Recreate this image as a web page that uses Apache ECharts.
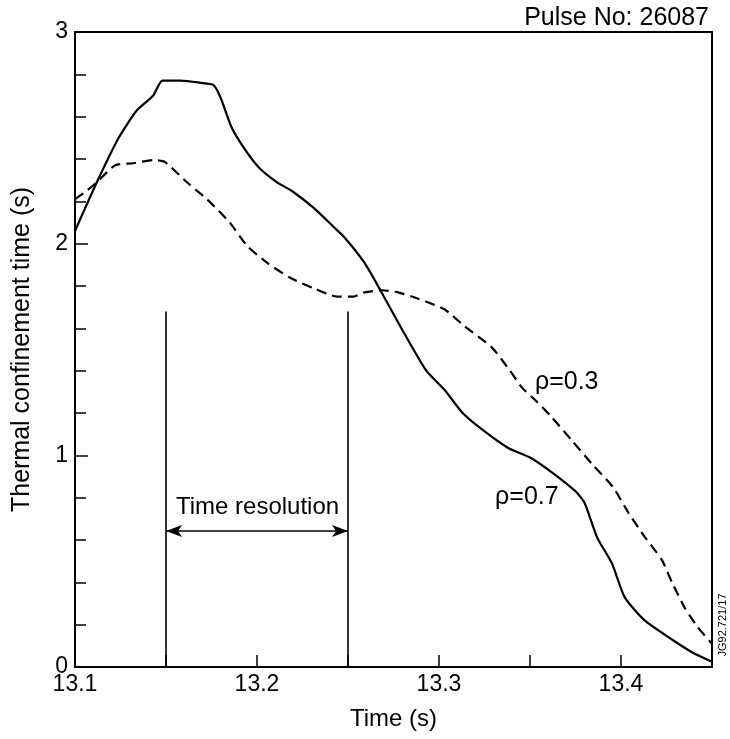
<!DOCTYPE html>
<html>
<head>
<meta charset="utf-8">
<title>Thermal confinement time</title>
<script src="https://cdn.jsdelivr.net/npm/echarts@6/dist/echarts.min.js"></script>
<style>
  html, body { margin: 0; padding: 0; background: #fff; }
  #chart { width: 730px; height: 739px; }
</style>
</head>
<body>
<div id="chart"></div>
<script>
/*****
 * DATA
 */
// rho = 0.7 (solid)
var timeSolid = [13.100, 13.112, 13.124, 13.134, 13.143, 13.148, 13.158, 13.169, 13.176, 13.180,
  13.186, 13.193, 13.201, 13.211, 13.219, 13.231, 13.242, 13.248, 13.259, 13.2665,
  13.280, 13.293, 13.303, 13.313, 13.324, 13.338, 13.350, 13.362, 13.375, 13.380,
  13.387, 13.395, 13.402, 13.413, 13.428, 13.439, 13.450];
var tauSolid = [2.06, 2.29, 2.50, 2.63, 2.70, 2.77, 2.77, 2.76, 2.75, 2.69,
  2.55, 2.45, 2.36, 2.29, 2.25, 2.17, 2.08, 2.03, 1.91, 1.80,
  1.59, 1.40, 1.31, 1.20, 1.12, 1.035, 0.99, 0.92, 0.83, 0.775,
  0.61, 0.49, 0.33, 0.22, 0.13, 0.07, 0.025];

// rho = 0.3 (dashed)
var timeDashed = [13.100, 13.1065, 13.112, 13.122, 13.132, 13.143, 13.1495, 13.1615, 13.1725, 13.185,
  13.1945, 13.2055, 13.218, 13.231, 13.244, 13.253, 13.259, 13.2687, 13.2775, 13.2885,
  13.303, 13.314, 13.329, 13.339, 13.3456, 13.353, 13.362, 13.373, 13.384, 13.3956,
  13.404, 13.413, 13.4225, 13.428, 13.435, 13.442, 13.450];
var tauDashed = [2.21, 2.25, 2.29, 2.37, 2.38, 2.395, 2.385, 2.29, 2.21, 2.10,
  1.99, 1.91, 1.84, 1.79, 1.75, 1.75, 1.77, 1.78, 1.77, 1.74,
  1.69, 1.61, 1.51, 1.40, 1.32, 1.26, 1.18, 1.07, 0.96, 0.85,
  0.73, 0.615, 0.505, 0.40, 0.28, 0.19, 0.11];

// time resolution window
var resolutionTimes = [13.15, 13.25];
var resolutionTop = 1.68;
var resolutionArrowY = 0.642;

// text annotations [x, y, text]
var curveLabels = [
  [13.3527, 1.346, 'ρ=0.3'],
  [13.3308, 0.803, 'ρ=0.7']
];
var resolutionLabel = [[13.2003, 0.756, 'Time resolution']];

var FONT = '"Liberation Sans", Arial, Helvetica, sans-serif';

function zip(xs, ys) {
  return xs.map(function (x, i) { return [x, ys[i]]; });
}

/****
 * CHART
 */
var myChart = echarts.init(document.getElementById('chart'));

var labelStyle = {
  show: true,
  fontFamily: FONT,
  color: '#000',
  opacity: 1,
  textBorderWidth: 0,
  formatter: function (p) { return p.value[2]; }
};

var option = {
  animation: false,
  backgroundColor: '#fff',
  textStyle: { fontFamily: FONT, color: '#000' },
  title: {
    text: 'Pulse No: 26087',
    right: 16,
    top: 1,
    textStyle: { fontFamily: FONT, fontSize: 25, fontWeight: 'normal', color: '#000' }
  },
  grid: {
    left: 75,
    right: 18,
    top: 32,
    bottom: 72,
    show: true,
    borderColor: '#000',
    borderWidth: 2,
    backgroundColor: 'transparent'
  },
  xAxis: {
    type: 'value',
    min: 13.1,
    max: 13.45,
    interval: 0.05,
    name: 'Time (s)',
    nameLocation: 'middle',
    nameGap: 40,
    nameTextStyle: { fontFamily: FONT, fontSize: 24, color: '#000' },
    axisLine: { lineStyle: { color: '#000', width: 2 } },
    axisTick: { inside: true, length: 12, lineStyle: { color: '#000', width: 1.5 } },
    axisLabel: {
      fontFamily: FONT,
      fontSize: 23,
      color: '#000',
      margin: 6,
      formatter: function (v) {
        return Math.round(v * 100) % 10 === 0 && v < 13.44 ? v.toFixed(1) : '';
      }
    },
    splitLine: { show: false }
  },
  yAxis: {
    type: 'value',
    min: 0,
    max: 3,
    interval: 1,
    name: 'Thermal confinement time (s)',
    nameLocation: 'middle',
    nameRotate: 90,
    nameGap: 40,
    nameTextStyle: { fontFamily: FONT, fontSize: 25, color: '#000' },
    axisLine: { lineStyle: { color: '#000', width: 2 } },
    axisTick: { inside: true, length: 13, lineStyle: { color: '#000', width: 1.5 } },
    minorTick: { show: true, splitNumber: 5, length: 11, lineStyle: { color: '#000', width: 1.5 } },
    axisLabel: { fontFamily: FONT, fontSize: 23, color: '#000', margin: 7 },
    splitLine: { show: false },
    minorSplitLine: { show: false }
  },
  graphic: [{
    type: 'text',
    x: 723,
    y: 625,
    rotation: Math.PI / 2,
    style: {
      text: 'JG92.721/17',
      font: '11px ' + FONT,
      fill: '#000',
      textAlign: 'center',
      textVerticalAlign: 'middle'
    }
  }],
  series: [
    {
      name: 'rho=0.7',
      type: 'line',
      data: zip(timeSolid, tauSolid),
      showSymbol: false,
      smooth: 0.2,
      lineStyle: { color: '#000', width: 2.2 },
      markLine: {
        silent: true,
        symbol: ['none', 'none'],
        label: { show: false },
        lineStyle: { color: '#000', width: 1.6, type: 'solid' },
        data: [
          [{ coord: [resolutionTimes[0], 0] }, { coord: [resolutionTimes[0], resolutionTop] }],
          [{ coord: [resolutionTimes[1], 0] }, { coord: [resolutionTimes[1], resolutionTop] }],
          [
            { coord: [resolutionTimes[0], resolutionArrowY], symbol: 'arrow', symbolSize: [9, 16] },
            { coord: [resolutionTimes[1], resolutionArrowY], symbol: 'arrow', symbolSize: [9, 16] }
          ]
        ]
      }
    },
    {
      name: 'rho=0.3',
      type: 'line',
      data: zip(timeDashed, tauDashed),
      showSymbol: false,
      smooth: 0.2,
      lineStyle: { color: '#000', width: 2.2, type: [10, 6] }
    },
    {
      name: 'labels',
      type: 'scatter',
      data: curveLabels,
      symbolSize: 0,
      silent: true,
      itemStyle: { color: '#000', opacity: 1 },
      label: Object.assign({}, labelStyle, { position: 'right', distance: 0, fontSize: 25 })
    },
    {
      name: 'resolution',
      type: 'scatter',
      data: resolutionLabel,
      symbolSize: 0,
      silent: true,
      itemStyle: { color: '#000', opacity: 1 },
      label: Object.assign({}, labelStyle, { position: 'inside', fontSize: 24 })
    }
  ]
};

myChart.setOption(option);
</script>
</body>
</html>
